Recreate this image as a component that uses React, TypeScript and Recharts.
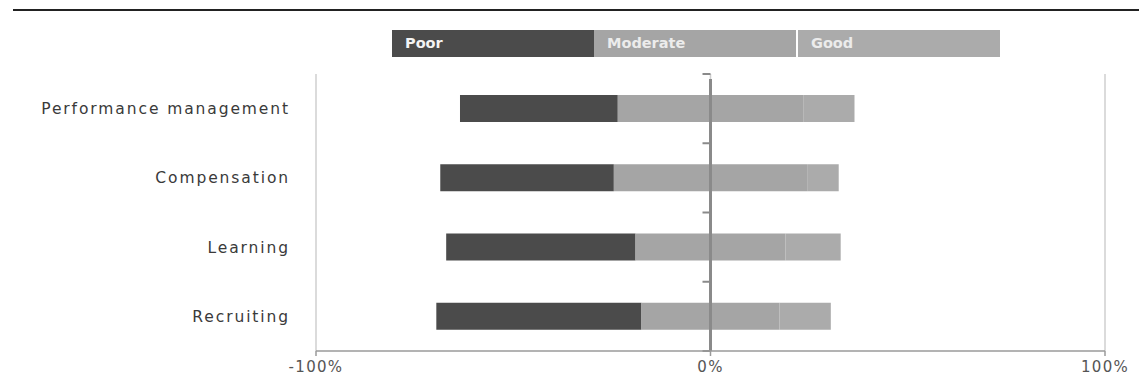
import React from 'react'
import {
  BarChart,
  Bar,
  XAxis,
  YAxis,
  CartesianGrid,
  ReferenceLine,
  Legend
} from 'recharts'

const categories = ['Performance management', 'Compensation', 'Learning', 'Recruiting']
const poor = [40, 44, 48, 52]
const moderate = [47, 49, 38, 35]
const good = [13, 8, 14, 13]
const xTicks = [-100, 0, 100]

const seriesNames = ['Poor', 'Moderate', 'Good']
const colors = ['#4b4b4b', '#a5a5a5', '#ababab']

// moderate is centred on zero, poor to the left, good to the right
const data = categories.map((name, i) => {
  const half = moderate[i] / 2
  return {
    name,
    poorRange: [-(poor[i] + half), -half],
    moderateRange: [-half, half],
    goodRange: [half, half + good[i]]
  }
})

const FONT = '"DejaVu Sans", sans-serif'

function ZeroAxis(props: any) {
  const { x1, y1, y2 } = props
  const step = (y2 - y1) / categories.length
  const marks = Array.from({ length: categories.length + 1 }, (_, i) => y1 + i * step)
  return (
    <g>
      <line x1={x1} x2={x1} y1={y1} y2={y2 + 5} stroke="#8a8a8a" strokeWidth={3} />
      {marks.map((y, i) => (
        <line key={i} x1={x1 - 8} x2={x1} y1={y} y2={y} stroke="#8a8a8a" strokeWidth={2} />
      ))}
    </g>
  )
}

function LegendBoxes() {
  return (
    <div style={{ display: 'flex' }}>
      {seriesNames.map((s, i) => (
        <div
          key={s}
          style={{
            width: 202,
            height: 27,
            marginLeft: i === 2 ? 2 : 0,
            background: colors[i],
            color: i === 0 ? '#f4f4f4' : '#ececec',
            fontFamily: FONT,
            fontWeight: 'bold',
            fontSize: 14.5,
            lineHeight: '27px',
            paddingLeft: 13,
            boxSizing: 'border-box',
            textAlign: 'left'
          }}
        >
          {s}
        </div>
      ))}
    </div>
  )
}

export default function App() {
  return (
    <div style={{ position: 'fixed', left: 0, top: 0, width: 1139, height: 387, background: '#fff' }}>
      <div style={{ position: 'absolute', left: 13, right: 0, top: 9, height: 2, background: '#222' }} />
      <BarChart
        width={1139}
        height={387}
        data={data}
        layout="vertical"
        margin={{ top: 74, right: 34, bottom: 6, left: 0 }}
        barSize={27}
        barGap={-27}
      >
        <CartesianGrid horizontal={false} stroke="#cfcfcf" strokeWidth={1.5} />
        <XAxis
          type="number"
          domain={[-100, 100]}
          ticks={xTicks}
          tickFormatter={(v) => `${v}%`}
          height={30}
          stroke="#9a9a9a"
          strokeWidth={1.5}
          tickSize={5}
          tickMargin={5}
          tick={{ fontSize: 15, fill: '#555', fontFamily: FONT, letterSpacing: 1.3 }}
        />
        <YAxis
          type="category"
          dataKey="name"
          width={316}
          axisLine={false}
          tickLine={false}
          tickSize={0}
          tickMargin={26}
          tick={{ fontSize: 15.5, fill: '#3a3a3a', fontFamily: FONT, letterSpacing: 1.9 }}
        />
        <Legend
          layout="horizontal"
          verticalAlign="middle"
          content={() => <LegendBoxes />}
          wrapperStyle={{ top: 30, left: 392, width: 608 }}
        />
        <Bar dataKey="poorRange" name="Poor" fill={colors[0]} isAnimationActive={false} />
        <Bar dataKey="moderateRange" name="Moderate" fill={colors[1]} isAnimationActive={false} />
        <Bar dataKey="goodRange" name="Good" fill={colors[2]} isAnimationActive={false} />
        <ReferenceLine x={0} shape={ZeroAxis} />
      </BarChart>
    </div>
  )
}
